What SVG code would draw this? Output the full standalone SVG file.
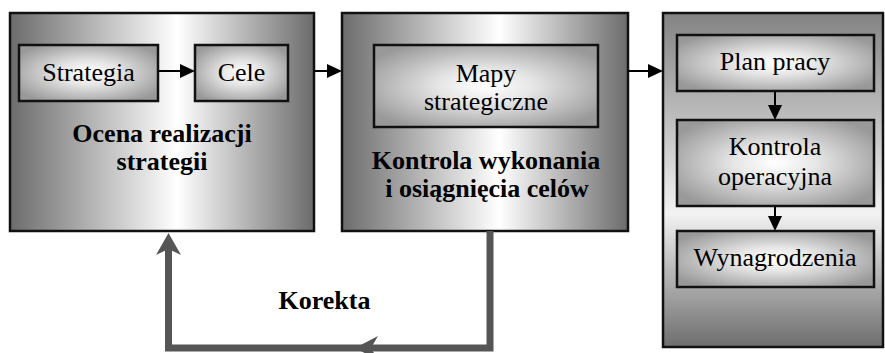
<svg xmlns="http://www.w3.org/2000/svg" width="885" height="353" viewBox="0 0 885 353">
<defs>
<style>
.outer{stroke:#111;stroke-width:2.5}
.inner{stroke:#111;stroke-width:2.5;fill:url(#gIn)}
text{font-family:'Liberation Serif','Times New Roman',serif;font-size:26px;fill:#000;text-anchor:middle}
.b{font-weight:bold}
.ar{stroke:#000;stroke-width:2;fill:none;marker-end:url(#ah)}
.fb{stroke:#555;stroke-width:7;fill:none;stroke-linejoin:miter}
</style>
<linearGradient id="gH" x1="0" y1="0" x2="1" y2="0">
<stop offset="0" stop-color="#6c6c6c"/>
<stop offset="0.55" stop-color="#ffffff"/>
<stop offset="1" stop-color="#6c6c6c"/>
</linearGradient>
<linearGradient id="gV" x1="0" y1="0" x2="0" y2="1">
<stop offset="0" stop-color="#838383"/>
<stop offset="0.6" stop-color="#f2f2f2"/>
<stop offset="1" stop-color="#6e6e6e"/>
</linearGradient>
<radialGradient id="gIn" cx="0.5" cy="0.5" r="0.6">
<stop offset="0" stop-color="#ffffff"/>
<stop offset="0.35" stop-color="#e6e6e6"/>
<stop offset="1" stop-color="#999999"/>
</radialGradient>
<marker id="ah" viewBox="0 0 15 14" refX="2" refY="7" markerWidth="15" markerHeight="14" markerUnits="userSpaceOnUse" orient="auto">
<path d="M0,0 L15,7 L0,14 z" fill="#000"/>
</marker>
</defs>

<g id="box-ocena">
<rect class="outer" x="10" y="13" width="304" height="218" fill="url(#gH)"/>
<text class="b" x="162" y="142">Ocena realizacji</text>
<text class="b" x="162" y="170">strategii</text>
</g>
<g id="node-strategia">
<rect class="inner" x="19" y="45" width="139" height="56"/>
<text x="88.5" y="81">Strategia</text>
</g>
<g id="node-cele">
<rect class="inner" x="195" y="45" width="93" height="56"/>
<text x="241.5" y="81">Cele</text>
</g>

<g id="box-kontrola">
<rect class="outer" x="342" y="13" width="286" height="218" fill="url(#gH)"/>
<text class="b" x="486" y="169">Kontrola wykonania</text>
<text class="b" x="487" y="197">i osiągnięcia celów</text>
</g>
<g id="node-mapy">
<rect class="inner" x="374" y="45" width="224" height="82"/>
<text x="486" y="82">Mapy</text>
<text x="486" y="110">strategiczne</text>
</g>

<g id="box-operacyjny">
<rect class="outer" x="663" y="13" width="220" height="334" fill="url(#gV)"/>
</g>
<g id="node-plan">
<rect class="inner" x="677" y="35" width="197" height="56"/>
<text x="775" y="70">Plan pracy</text>
</g>
<g id="node-kontrola-op">
<rect class="inner" x="677" y="120" width="197" height="86"/>
<text x="775" y="155">Kontrola</text>
<text x="775" y="185">operacyjna</text>
</g>
<g id="node-wynagrodzenia">
<rect class="inner" x="677" y="231" width="197" height="56"/>
<text x="775" y="266">Wynagrodzenia</text>
</g>

<g id="connectors">
<line class="ar" x1="158" y1="71" x2="182" y2="71"/>
<line class="ar" x1="314" y1="71" x2="329" y2="71"/>
<line class="ar" x1="628" y1="71" x2="650" y2="71"/>
<line class="ar" x1="775" y1="91" x2="775" y2="107"/>
<line class="ar" x1="775" y1="206" x2="775" y2="218"/>
<polyline class="fb" points="490,231 490,348 168.5,348 168.5,247"/>
<path d="M168.5,233 L181,255 L168.5,249 L156,255 z" fill="#555"/>
<path d="M355,348 L378,336 L371,348 L378,360 z" fill="#555"/>
<text class="b" x="324.5" y="309">Korekta</text>
</g>
</svg>
